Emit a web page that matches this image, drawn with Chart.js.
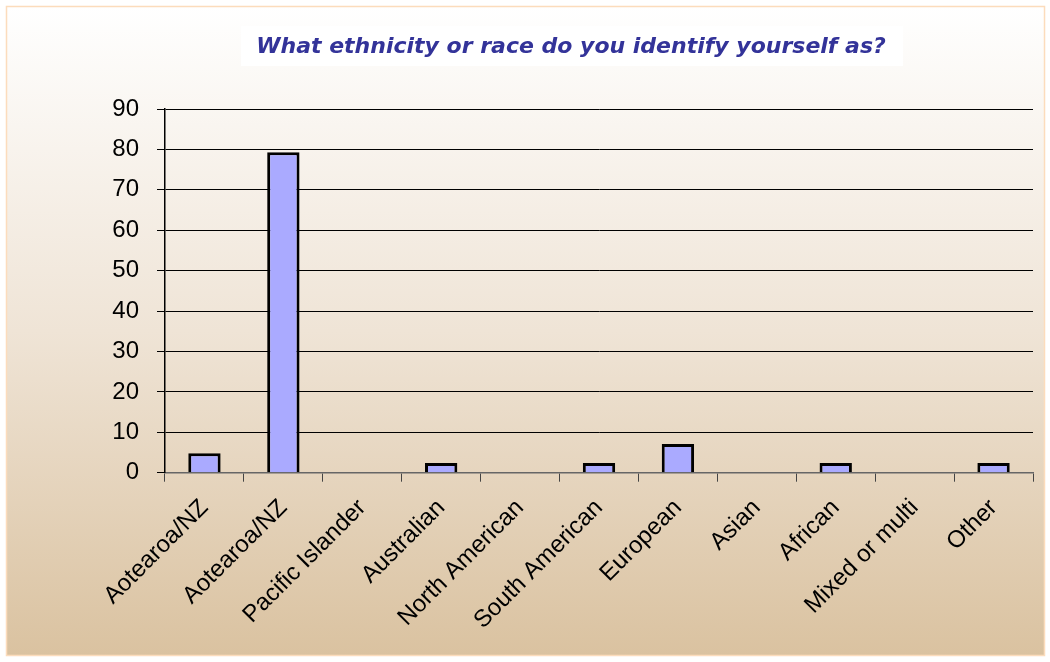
<!DOCTYPE html>
<html>
<head>
<meta charset="utf-8">
<script src="https://cdn.jsdelivr.net/npm/chart.js@4"></script>
<style>
  html, body { margin: 0; padding: 0; background: #ffffff; }
  #wrap { width: 1050px; height: 662px; }
</style>
</head>
<body>
<div id="wrap"><canvas id="ChartEtnis" width="1050" height="662"></canvas></div>
<script>
// kategori dan nilai
const categories = [
  "Aotearoa/NZ",
  "Aotearoa/NZ",
  "Pacific Islander",
  "Australian",
  "North American",
  "South American",
  "European",
  "Asian",
  "African",
  "Mixed or multi",
  "Other"
];
const values = [4.8, 79.3, 0, 2.4, 0, 2.4, 7.1, 0, 2.4, 0, 2.4];
const yTicks = [0, 10, 20, 30, 40, 50, 60, 70, 80, 90];
const chartTitle = "What ethnicity or race do you identify yourself as?";

// background gradient + border + title box
const bgPlugin = {
  id: "bgPlugin",
  beforeDraw(chart) {
    const c = chart.ctx;
    const g = c.createLinearGradient(0, 6, 0, 656);
    g.addColorStop(0, "#ffffff");
    g.addColorStop(0.5, "#efe4d6");
    g.addColorStop(1, "#dac2a0");
    c.save();
    c.fillStyle = "#ffffff";
    c.fillRect(0, 0, chart.width, chart.height);
    c.fillStyle = g;
    c.fillRect(6, 6, 1039, 650);
    c.strokeStyle = "#fcdcbc";
    c.lineWidth = 1.5;
    c.strokeRect(6.5, 6.5, 1038, 649);
    // title
    c.fillStyle = "#ffffff";
    c.fillRect(241, 26, 662, 40);
    c.font = "italic bold 22px 'DejaVu Sans'";
    c.fillStyle = "#333399";
    c.textAlign = "center";
    c.textBaseline = "middle";
    c.fillText(chartTitle, 571, 47);
    c.restore();
  }
};

document.addEventListener("DOMContentLoaded", function () {
  const ctx = document.getElementById("ChartEtnis");
  new Chart(ctx, {
    type: "bar",
    data: {
      labels: categories,
      datasets: [{
        data: values,
        backgroundColor: "#aaaaff",
        borderColor: "#000000",
        borderWidth: 3,
        barPercentage: 1,
        categoryPercentage: 0.41
      }]
    },
    options: {
      responsive: false,
      animation: false,
      layout: { padding: { left: 0, right: 17, top: 109, bottom: 0 } },
      plugins: {
        legend: { display: false },
        title: { display: false },
        tooltip: { enabled: false }
      },
      scales: {
        x: {
          afterFit: (s) => { s.height = 189.3; },
          grid: {
            offset: true,
            drawOnChartArea: false,
            drawTicks: true,
            tickLength: 9,
            color: "#444444"
          },
          border: { color: "#666666", width: 1.5 },
          ticks: {
            color: "#000000",
            font: { family: "'Liberation Sans'", size: 24 },
            minRotation: 45,
            maxRotation: 45,
            padding: 12,
            autoSkip: false
          }
        },
        y: {
          min: 0,
          max: 90,
          afterFit: (s) => { s.width = 165; },
          afterBuildTicks: (s) => { s.ticks = yTicks.map(v => ({ value: v })); },
          grid: {
            color: "#000000",
            lineWidth: 1,
            tickLength: 8
          },
          border: { color: "#000000", width: 1.5 },
          ticks: {
            color: "#000000",
            font: { family: "'Liberation Sans'", size: 24 },
            padding: 18
          }
        }
      }
    },
    plugins: [bgPlugin]
  });
});
</script>
</body>
</html>
